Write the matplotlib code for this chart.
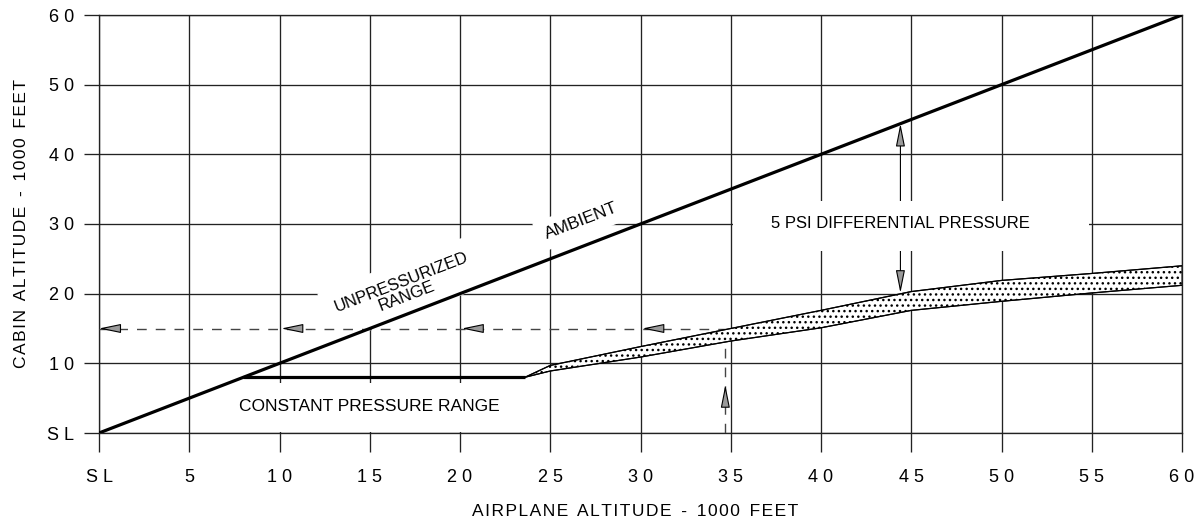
import math
import numpy as np
import matplotlib
matplotlib.use("Agg")
import matplotlib.pyplot as plt
from matplotlib.patches import Rectangle

# --- data (1000 ft) ---
ambient_x = [0, 60]
ambient_y = [0, 60]

const_x = [8.0, 23.6]
const_y = [8.0, 8.0]

band_x = [23.6, 25, 30, 35, 40, 45, 50, 55, 60]
band_upper = [8.0, 9.7, 12.4, 15.0, 17.6, 20.3, 21.9, 22.9, 24.0]
band_lower = [8.0, 8.9, 10.9, 13.2, 15.1, 17.6, 18.9, 20.1, 21.2]

ref_cabin = 15.0        # dashed reading line
ref_airplane = 34.7
arrow_tips = [0, 10.1, 20.1, 30.1]
diff_x = 44.4
diff_top = 44.4
diff_bottom = 20.1

x_ticks = list(range(0, 61, 5))
x_tick_labels = ["S L", "5", "1 0", "1 5", "2 0", "2 5", "3 0", "3 5", "4 0", "4 5", "5 0", "5 5", "6 0"]
y_ticks = list(range(0, 61, 10))
y_tick_labels = ["S L", "1 0", "2 0", "3 0", "4 0", "5 0", "6 0"]

FONT = ["Liberation Sans", "DejaVu Sans"]
plt.rcParams["font.family"] = FONT


def spaced(s):
    # the drawing uses wide letter spacing
    return "\u200a".join(s).replace("\u200a \u200a", "  ")


fig = plt.figure(figsize=(11.98, 5.23), dpi=100)
ax = fig.add_axes([99 / 1198, 1 - 433 / 523, 1083 / 1198, 418 / 523])
ax.set_xlim(0, 60)
ax.set_ylim(0, 60)

gc = "#222222"
for s in ax.spines.values():
    s.set_color(gc)
    s.set_linewidth(0.95)
ax.set_xticks(x_ticks)
ax.set_xticklabels(x_tick_labels)
ax.set_yticks(y_ticks)
ax.set_yticklabels(y_tick_labels)
ax.tick_params(axis="x", direction="out", length=13.7, width=0.95, color=gc, pad=12, labelsize=13)
ax.tick_params(axis="y", direction="out", length=10.8, width=0.95, color=gc, pad=7, labelsize=13)
ax.grid(True, color=gc, linewidth=0.95, zorder=1)
ax.set_axisbelow(True)

ax.set_xlabel(spaced("AIRPLANE ALTITUDE - 1000 FEET"), fontsize=12.5, va="center")
ax.set_ylabel(spaced("CABIN ALTITUDE - 1000 FEET"), fontsize=12.5, va="center")
ax.xaxis.set_label_coords(0.495, -0.187)
ax.yaxis.set_label_coords(-0.072, 0.5)

# white masks where the drawing breaks the grid for text
ax.add_patch(Rectangle((35.15, 26.1), 19.7, 7.2, facecolor="white", edgecolor="none", zorder=2))
ax.add_patch(Rectangle((8.6, 0.15), 14.2, 7.05, facecolor="white", edgecolor="none", zorder=2))

# curves
ax.plot(ambient_x, ambient_y, color="black", lw=2.3, zorder=4, solid_capstyle="butt")
ax.plot(const_x, const_y, color="black", lw=2.3, zorder=4, solid_capstyle="butt")
ax.fill_between(band_x, band_lower, band_upper, facecolor="white", edgecolor="black",
                hatch="...", linewidth=0.8, zorder=4)
ax.plot(band_x, band_upper, color="black", lw=0.9, zorder=4)
ax.plot(band_x, band_lower, color="black", lw=0.9, zorder=4)

# dashed reading lines
ax.plot([0, ref_airplane], [ref_cabin, ref_cabin], color="#444444", lw=1.0,
        dashes=(7, 6.5), zorder=3.5)
ax.plot([ref_airplane, ref_airplane], [0, ref_cabin], color="#444444", lw=1.0,
        dashes=(7, 6.5), zorder=3.5)

head = dict(facecolor="#9a9a9a", edgecolor="black", lw=0.8, shrinkA=0, shrinkB=0)
for tip in arrow_tips:
    ax.annotate("", xy=(tip, ref_cabin), xytext=(tip + 1.05, ref_cabin),
                arrowprops=dict(arrowstyle="-|>,head_length=1.35,head_width=0.28", **head),
                zorder=5)
ax.annotate("", xy=(ref_airplane, 6.9), xytext=(ref_airplane, 4.0),
            arrowprops=dict(arrowstyle="-|>,head_length=1.4,head_width=0.28", **head), zorder=5)
ax.annotate("", xy=(diff_x, diff_top), xytext=(diff_x, diff_bottom),
            arrowprops=dict(arrowstyle="<|-|>,head_length=1.4,head_width=0.28", **head),
            zorder=1.5)

# labels
p0 = ax.transData.transform((ambient_x[0], ambient_y[0]))
p1 = ax.transData.transform((ambient_x[1], ambient_y[1]))
ang = math.degrees(math.atan2(p1[1] - p0[1], p1[0] - p0[0]))

wbox = dict(facecolor="white", edgecolor="none", boxstyle="square,pad=0.45")
ax.text(26.7, 30.4, "AMBIENT", rotation=ang, ha="center", va="center",
        rotation_mode="anchor", fontsize=12.5, bbox=wbox, zorder=3)
ax.text(16.9, 20.7, "UNPRESSURIZED\nRANGE", rotation=ang, ha="center", va="center",
        rotation_mode="anchor", multialignment="center", fontsize=12,
        linespacing=1.0, bbox=dict(facecolor="white", edgecolor="none",
                                   boxstyle="square,pad=0.7"), zorder=3)
ax.text(15.0, 3.8, "CONSTANT PRESSURE RANGE", ha="center", va="center", fontsize=12.5, zorder=3)
ax.text(diff_x, 30.0, "5 PSI DIFFERENTIAL PRESSURE", ha="center", va="center", fontsize=12, zorder=3)

fig.savefig("out.png", dpi=100)
